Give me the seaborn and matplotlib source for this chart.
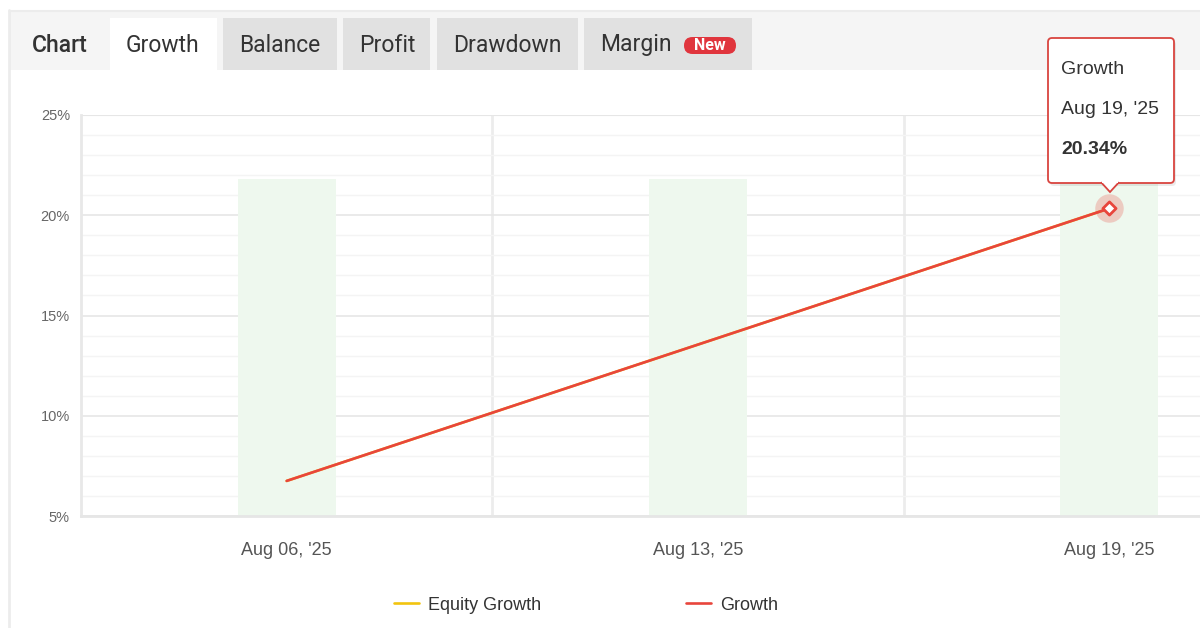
import numpy as np
import pandas as pd
import matplotlib
matplotlib.use("Agg")
import matplotlib.pyplot as plt
from matplotlib.patches import Rectangle, FancyBboxPatch, Polygon
from matplotlib.ticker import MultipleLocator, FuncFormatter
import seaborn as sns

# values
dates = ["Aug 06, '25", "Aug 13, '25", "Aug 19, '25"]
growth = [6.75, 13.55, 20.34]
equity_growth = [6.75, 13.55, 20.34]
band_top = [21.8, 21.8, 21.8]

tabs = ["Chart", "Growth", "Balance", "Profit", "Drawdown", "Margin"]
tab_left = [10, 110, 223, 343, 437, 584]
tab_right = [110, 217, 337, 430, 578, 752]

RED = "#e8453c"
YELLOW = "#f2c40f"
GRID = "#e6e6e6"
W, H = 1200, 628

sns.set_theme(style="white")
plt.rcParams["font.family"] = ["Liberation Sans", "DejaVu Sans"]

fig = plt.figure(figsize=(12, 6.28), dpi=100)
fig.patch.set_facecolor("white")

# background layer in pixel coordinates (tabs, frame)
bg = fig.add_axes([0, 0, 1, 1], zorder=-1)
bg.set_xlim(0, W)
bg.set_ylim(H, 0)
bg.axis("off")
bg.add_patch(Rectangle((10, 10), W - 10, 60, color="#f5f5f5", lw=0))
bg.plot([10, W], [10.5, 10.5], color="#ececec", lw=1.5)
bg.plot([9, 9], [10, H], color="#ececec", lw=2)
for i, name in enumerate(tabs):
    l, r = tab_left[i], tab_right[i]
    if i == 0:
        color = None
    elif i == 1:
        color = "white"
    else:
        color = "#e1e1e1"
    if color:
        bg.add_patch(Rectangle((l, 18), r - l, 52, color=color, lw=0))
    tx = l + (22 if i == 0 else 16)
    bg.text(tx, 45, name, ha="left", va="center", fontsize=16.5,
            family="Roboto", color="#333333",
            fontweight="medium" if i == 0 else "normal")
# "New" badge
bg.add_patch(FancyBboxPatch((684, 37), 52, 17, boxstyle="round,pad=0,rounding_size=8.5",
                            fc="#e0353d", ec="none"))
bg.text(710, 46, "New", ha="center", va="center", fontsize=11.5, color="white",
        family="Roboto", fontweight="bold")

# main chart axes (runs past the right edge, as in the cropped screenshot)
ax = fig.add_axes([81 / W, 1 - 516 / H, (1315 - 81) / W, 401 / H])
ax.set_facecolor("none")

df = pd.DataFrame({"date": dates, "pos": np.arange(len(dates)),
                   "growth": growth, "equity": equity_growth, "band": band_top})

sns.barplot(data=df, x="date", y="band", color="#eef8ee", width=98 / 412,
            saturation=1, ax=ax, zorder=1)
for p in ax.patches:
    p.set_edgecolor("none")

sns.lineplot(data=df, x="pos", y="equity", color=YELLOW, lw=1.9, ax=ax,
             label="Equity Growth", zorder=3)
sns.lineplot(data=df, x="pos", y="growth", color=RED, lw=1.9, ax=ax,
             label="Growth", zorder=4)

# highlighted last point
ax.scatter(df["pos"].iloc[-1], df["growth"].iloc[-1], s=420, color=RED,
           alpha=0.25, lw=0, zorder=5)
ax.scatter(df["pos"].iloc[-1], df["growth"].iloc[-1], s=45, marker="D",
           fc="white", ec=RED, lw=2, zorder=6)

ax.set_xlim(-0.5, 2.5)
ax.set_ylim(5, 25)
ax.yaxis.set_major_locator(MultipleLocator(5))
ax.yaxis.set_minor_locator(MultipleLocator(1))
ax.yaxis.set_major_formatter(FuncFormatter(lambda v, _: f"{v:.0f}%"))
ax.set_xticks(range(len(dates)))
ax.set_xticklabels(dates)
ax.set_xlabel("")
ax.set_ylabel("")

ax.grid(axis="y", which="major", color=GRID, lw=1.2, zorder=0)
ax.grid(axis="y", which="minor", color="#f4f4f4", lw=1, zorder=0)
for xv in [0.5, 1.5]:
    ax.axvline(xv, color="#ececec", lw=2, zorder=0.5)
ax.set_axisbelow(True)

for side in ["top", "right"]:
    ax.spines[side].set_visible(False)
ax.spines["left"].set_color("#e8e8e8")
ax.spines["left"].set_linewidth(2)
ax.spines["bottom"].set_color("#e6e6e6")
ax.spines["bottom"].set_linewidth(2)
ax.axhline(25, color=GRID, lw=1.5, zorder=0)

ax.tick_params(axis="y", which="both", length=0, pad=8, labelsize=10.5,
               labelcolor="#666666")
ax.tick_params(axis="x", length=0, pad=19, labelsize=13, labelcolor="#555555")

handles, labels = ax.get_legend_handles_labels()
ax.get_legend().remove()
fig.legend(handles, labels, loc="center", bbox_to_anchor=(586 / W, 1 - 605 / H),
           ncol=2, frameon=False, fontsize=13, handlelength=1.4,
           handletextpad=0.5, columnspacing=8.0, labelcolor="#333333")

# tooltip layer
fg = fig.add_axes([0, 0, 1, 1], zorder=10)
fg.set_xlim(0, W)
fg.set_ylim(H, 0)
fg.axis("off")
fg.patch.set_alpha(0)
box_l, box_t, box_r, box_b = 1048, 38, 1174, 183
tip_x = 1110
fg.add_patch(FancyBboxPatch((box_l + 2, box_t + 3), box_r - box_l, box_b - box_t,
                            boxstyle="round,pad=0,rounding_size=4",
                            fc="#000000", ec="none", alpha=0.08))
fg.add_patch(FancyBboxPatch((box_l, box_t), box_r - box_l, box_b - box_t,
                            boxstyle="round,pad=0,rounding_size=4",
                            fc="white", ec="#d9443f", lw=1.3))
fg.add_patch(Polygon([[tip_x - 9, box_b - 0.8], [tip_x, box_b + 9], [tip_x + 9, box_b - 0.8]],
                     closed=False, fc="white", ec="#d9443f", lw=1.3))
fg.add_patch(Rectangle((tip_x - 8, box_b - 2), 16, 2.2, fc="white", ec="none"))
fg.text(1061, 70, "Growth", ha="left", va="center", fontsize=14, color="#333333")
fg.text(1061, 110, dates[-1], ha="left", va="center", fontsize=14, color="#333333")
fg.text(1061, 150, f"{growth[-1]:.2f}%", ha="left", va="center", fontsize=14,
        color="#333333", fontweight="bold")

fig.savefig("out.png", dpi=100)
